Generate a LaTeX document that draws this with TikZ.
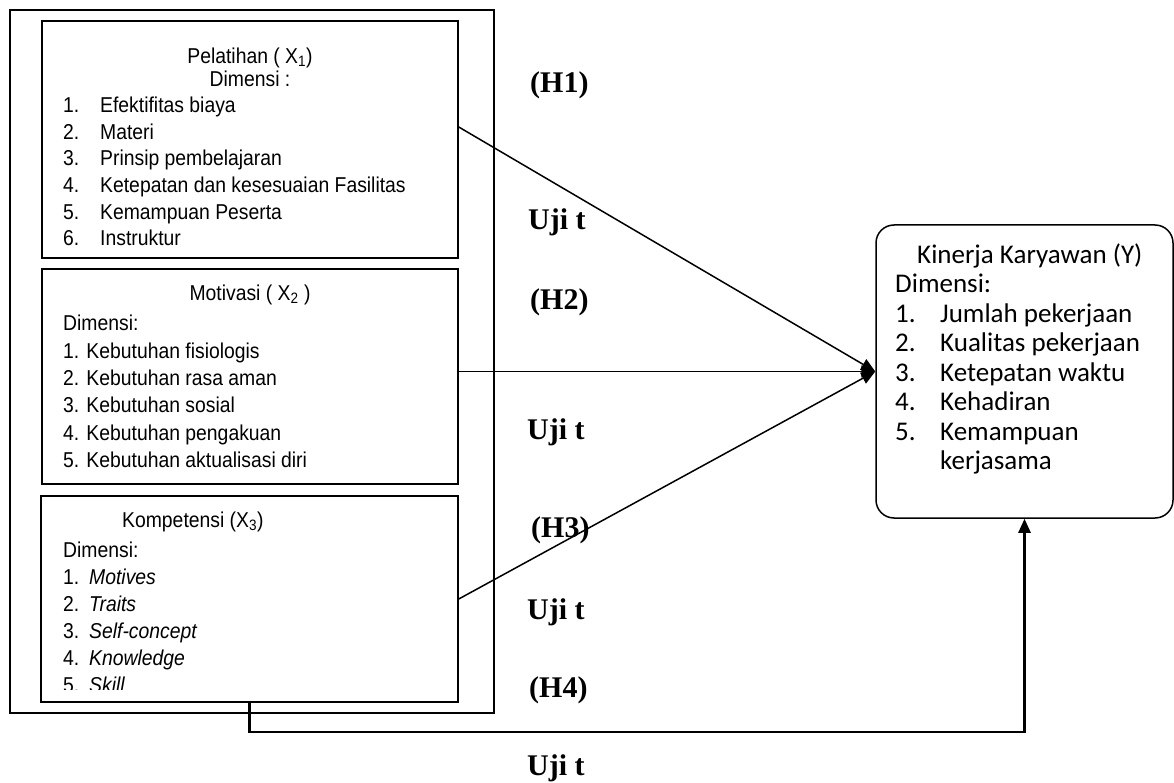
\documentclass[tikz,border=0pt]{standalone}
\usepackage{xcolor}
\usepackage{amsmath}
\usepackage{fontspec}
\setmainfont{Liberation Sans}[FakeStretch=0.9]
\newfontfamily\calfont{Carlito}
\newfontfamily\serfont{Liberation Serif}
\usepackage{tikz}
\usetikzlibrary{arrows.meta}

\begin{document}
\begin{tikzpicture}[x=1pt,y=-1pt,
                    box/.style={draw,line width=1.5pt,inner sep=0pt},
                    txt/.style={inner sep=0pt,align=left,font=\fontsize{21.5}{26.6}\selectfont},
                    lbl/.style={inner sep=0pt,anchor=west,font={\serfont\bfseries\fontsize{30}{32}\selectfont}},
                    conn/.style={line width=1.5pt,-{Triangle[length=14pt,width=12pt]}}]
\useasboundingbox (0,0) rectangle (1174,783);
% variabel bebas
\node[box,minimum width=484pt,minimum height=703pt] (frame) at (252,361.5) {};
\node[box,minimum width=416pt,minimum height=237pt] (x1) at (250,139.5) {};
\node[box,minimum width=416pt,minimum height=215pt] (x2) at (250,376.5) {};
\node[box,minimum width=417pt,minimum height=206pt] (x3) at (249.5,599) {};
\node[txt,align=center,font=\fontsize{21.5}{23}\selectfont] (x1t) at (250,67)
     {Pelatihan ( X\textsubscript{1})\\Dimensi :};
\node[txt,anchor=west] (x1l) at (63,171.5)
     {\makebox[37pt][l]{1.}Efektifitas biaya\\
      \makebox[37pt][l]{2.}Materi\\
      \makebox[37pt][l]{3.}Prinsip pembelajaran\\
      \makebox[37pt][l]{4.}Ketepatan dan kesesuaian Fasilitas\\
      \makebox[37pt][l]{5.}Kemampuan Peserta\\
      \makebox[37pt][l]{6.}Instruktur};
\node[txt] (x2t) at (250,295) {Motivasi ( X\textsubscript{2} )};
\node[txt,anchor=west,font=\fontsize{21.5}{27.4}\selectfont] (x2l) at (63,391.5)
     {Dimensi:\\
      1. Kebutuhan fisiologis\\
      2. Kebutuhan rasa aman\\
      3. Kebutuhan sosial\\
      4. Kebutuhan pengakuan\\
      5. Kebutuhan aktualisasi diri};
\node[txt,anchor=west] (x3t) at (122,522) {Kompetensi (X\textsubscript{3})};
\begin{scope}
\clip (x3.north west) rectangle ([yshift=13pt]x3.south east);
\node[txt,anchor=west,font=\fontsize{21.5}{27}\selectfont] (x3l) at (63,617.5)
     {Dimensi:\\
      \makebox[26pt][l]{1.}\textit{Motives}\\
      \makebox[26pt][l]{2.}\textit{Traits}\\
      \makebox[26pt][l]{3.}\textit{Self-concept}\\
      \makebox[26pt][l]{4.}\textit{Knowledge}\\
      \makebox[26pt][l]{5.}\textit{Skill}};
\end{scope}
% variabel terikat
\node[box,rounded corners=18pt,minimum width=297pt,minimum height=293pt] (y) at (1024.5,371.5) {};
\node[txt,anchor=west,font={\calfont\fontsize{27}{29.5}\selectfont}] (yl) at (895,359)
     {\hspace*{22pt}Kinerja Karyawan (Y)\\
      Dimensi:\\
      \makebox[45pt][l]{1.}Jumlah pekerjaan\\
      \makebox[45pt][l]{2.}Kualitas pekerjaan\\
      \makebox[45pt][l]{3.}Ketepatan waktu\\
      \makebox[45pt][l]{4.}Kehadiran\\
      \makebox[45pt][l]{5.}Kemampuan\\
      \hspace*{45pt}kerjasama};
% hipotesis
\node[lbl] (h1) at (530,85) {(H1)};
\node[lbl] (u1) at (528,222) {Uji t};
\node[lbl] (h2) at (530,302) {(H2)};
\node[lbl] (u2) at (527,432) {Uji t};
\node[lbl] (h3) at (531,530) {(H3)};
\node[lbl] (u3) at (527,612) {Uji t};
\node[lbl] (h4) at (529,690) {(H4)};
\node[lbl] (u4) at (527,768) {Uji t};
\draw[conn] ([yshift=12.5pt]x1.east) -- (y.west);
\draw[conn] (x2.east |- y.west) -- (y.west);
\draw[conn] (x3.east) -- (y.west);
\draw[conn,line width=2.5pt] (x3.south) -- ++(0,29) -| (y.south);
\end{tikzpicture}
\end{document}
